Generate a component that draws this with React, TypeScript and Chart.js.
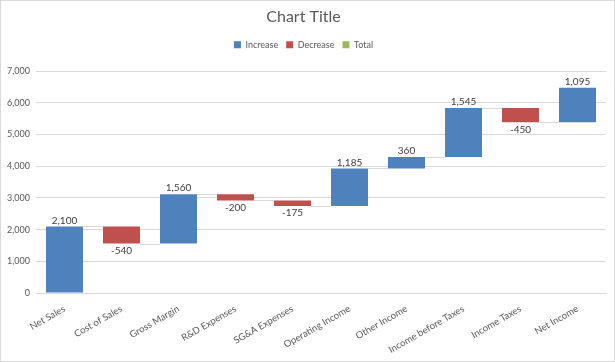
import React, { useEffect, useRef } from "react";
import { Chart, registerables } from "chart.js";

Chart.register(...registerables);

const categories = [
  "Net Sales",
  "Cost of Sales",
  "Gross Margin",
  "R&D Expenses",
  "SG&A Expenses",
  "Operating Income",
  "Other Income",
  "Income before Taxes",
  "Income Taxes",
  "Net Income",
];
const changes = [2100, -540, 1560, -200, -175, 1185, 360, 1545, -450, 1095];
const yMin = 0;
const yMax = 7000;
const yStep = 1000;

const FONT = "Lato, 'Open Sans', sans-serif";

const fmt = (v: number) => v.toLocaleString("en-US");

export default function App() {
  const ref = useRef<HTMLCanvasElement | null>(null);

  useEffect(() => {
    if (!ref.current) return;
    const starts: number[] = [];
    const ends: number[] = [];
    let run = 0;
    changes.forEach((c) => {
      starts.push(run);
      run += c;
      ends.push(run);
    });
    const incData = changes.map((c, i) => (c >= 0 ? [starts[i], ends[i]] : null));
    const decData = changes.map((c, i) => (c < 0 ? [ends[i], starts[i]] : null));
    const totData = changes.map(() => null);

    const legendSpacer = {
      id: "legendSpacer",
      beforeLayout(chart: any) {
        const lg = chart.legend;
        if (lg && !lg._spacerPatched) {
          const orig = lg.fit;
          lg.fit = function () {
            orig.call(this);
            this.height += 12;
          };
          lg._spacerPatched = true;
        }
      },
    };

    const waterfallPlugin = {
      id: "waterfall",
      afterDatasetsDraw(chart: any) {
        const ctx = chart.ctx;
        const y = chart.scales.y;
        const els = changes.map((c, i) => chart.getDatasetMeta(c >= 0 ? 0 : 1).data[i]);
        ctx.save();
        ctx.strokeStyle = "#d9d9d9";
        ctx.lineWidth = 1;
        for (let i = 0; i < els.length - 1; i++) {
          const a = els[i];
          const b = els[i + 1];
          const py = Math.round(y.getPixelForValue(ends[i])) + 0.5;
          ctx.beginPath();
          ctx.moveTo(a.x + a.width / 2, py);
          ctx.lineTo(b.x - b.width / 2, py);
          ctx.stroke();
        }
        ctx.fillStyle = "#404040";
        ctx.font = `10px ${FONT}`;
        ctx.textAlign = "center";
        ctx.textBaseline = "middle";
        els.forEach((el: any, i: number) => {
          const top = Math.min(el.y, el.base);
          const bot = Math.max(el.y, el.base);
          if (changes[i] >= 0) ctx.fillText(fmt(changes[i]), el.x, top - 6);
          else ctx.fillText(fmt(changes[i]), el.x, bot + 7);
        });
        ctx.restore();
      },
    };

    const chart = new Chart(ref.current, {
      type: "bar",
      data: {
        labels: categories,
        datasets: [
          { label: "Increase", data: incData as any, backgroundColor: "#4F81BD", grouped: false, categoryPercentage: 1, barPercentage: 0.65 } as any,
          { label: "Decrease", data: decData as any, backgroundColor: "#C0504D", grouped: false, categoryPercentage: 1, barPercentage: 0.65 } as any,
          { label: "Total", data: totData as any, backgroundColor: "#9BBB59", grouped: false, categoryPercentage: 1, barPercentage: 0.65 } as any,
        ],
      },
      options: {
        responsive: false,
        animation: false,
        layout: { padding: { left: 0, right: 8, top: 0, bottom: 0 } },
        plugins: {
          title: {
            display: true,
            text: "Chart Title",
            color: "#595959",
            font: { family: FONT, size: 16, weight: "normal" },
            padding: { top: 6, bottom: 6 },
          },
          legend: {
            display: true,
            position: "top",
            labels: {
              boxWidth: 7,
              boxHeight: 7,
              color: "#595959",
              font: { family: FONT, size: 9 },
              padding: 8,
            },
          },
          tooltip: { enabled: false },
        },
        scales: {
          x: {
            grid: { display: false },
            border: { display: true, color: "#d9d9d9" },
            ticks: {
              color: "#595959",
              font: { family: FONT, size: 9.5 },
              minRotation: 30,
              maxRotation: 30,
              autoSkip: false,
              padding: 2,
            },
            afterFit(scale: any) {
              scale.height = 68;
            },
          },
          y: {
            min: yMin,
            max: yMax,
            grid: { color: "#d9d9d9", drawTicks: false },
            border: { display: false },
            ticks: {
              stepSize: yStep,
              color: "#595959",
              font: { family: FONT, size: 9 },
              padding: 6,
              callback: (v: any) => fmt(Number(v)),
            },
            afterFit(scale: any) {
              scale.width = 35;
            },
          },
        },
      },
      plugins: [legendSpacer, waterfallPlugin],
    });
    return () => chart.destroy();
  }, []);

  return (
    <div
      style={{
        position: "absolute",
        left: 0,
        top: 0,
        width: 615,
        height: 362,
        boxSizing: "border-box",
        border: "1px solid #d9d9d9",
        background: "#fff",
      }}
    >
      <canvas ref={ref} width={613} height={360} style={{ display: "block" }} />
    </div>
  );
}
